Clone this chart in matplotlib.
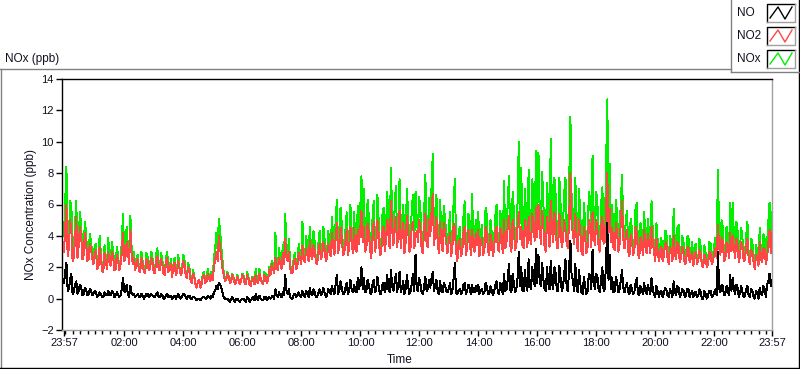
import numpy as np
import matplotlib.pyplot as plt
from matplotlib.lines import Line2D

# samples on the 5-minute marks, 23:57 -> 23:57 next day (one row per hour)
no2_a = [
    3.0, 6.0, 3.2, 4.4, 2.6, 5.2, 3.4, 4.0, 2.8, 3.6, 2.5, 3.2,
    2.2, 3.1, 2.0, 2.6, 1.7, 2.4, 3.0, 2.1, 2.7, 1.9, 2.5, 2.2,
    4.2, 2.6, 3.0, 4.4, 2.2, 1.8, 2.5, 1.7, 2.2, 1.6, 2.4, 1.9,
    2.3, 1.6, 2.7, 1.8, 2.2, 1.5, 2.6, 1.9, 1.4, 2.3, 1.7, 1.9,
    1.7, 2.2, 1.3, 1.8, 1.0, 1.4, 0.7, 1.2, 0.9, 1.5, 1.1, 1.3,
    1.5, 2.0, 3.0, 4.0, 2.6, 1.5, 1.2, 1.4, 1.1, 1.3, 1.0, 1.2,
    1.1, 1.4, 0.9, 1.3, 0.8, 1.2, 1.5, 1.0, 1.3, 0.9, 1.4, 1.2,
    1.5, 1.9, 2.6, 1.8, 2.2, 2.9, 3.8, 2.4, 2.0, 1.7, 2.5, 2.2,
    2.6, 3.4, 2.3, 2.9, 3.7, 2.5, 3.1, 2.2, 3.5, 2.7, 3.2, 2.6,
    3.1, 4.2, 2.8, 4.8, 3.3, 3.9, 2.9, 4.4, 3.2, 3.7, 4.5, 3.0,
    3.5, 5.6, 4.6, 3.2, 4.3, 2.6, 4.9, 3.4, 4.1, 2.9, 4.6, 3.8,
    4.0, 6.2, 3.4, 5.2, 4.1, 3.2, 4.8, 3.6, 4.4, 3.3, 4.9, 4.0,
    3.6, 4.4, 2.9, 5.4, 3.3, 4.0, 6.7, 4.2, 3.6, 4.9, 3.0, 4.2,
    2.9, 4.2, 3.3, 4.5, 2.4, 3.8, 3.0, 4.6, 3.2, 3.9, 4.4, 3.0,
    3.4, 2.7, 3.9, 3.1, 4.2, 2.8, 3.6, 3.3, 4.6, 3.0, 3.7, 5.0,
    3.6, 5.3, 3.0, 4.4, 3.4, 5.5, 4.6, 3.2, 4.2, 5.2, 3.5, 4.5,
    5.8, 6.0, 3.5, 4.6, 3.0, 4.3, 6.2, 3.6, 4.8, 3.2, 4.5, 3.8,
    4.4, 3.2, 8.0, 4.2, 5.4, 3.0, 4.3, 2.8, 3.9, 3.3, 4.6, 5.5,
    3.4, 4.4, 3.0, 5.2, 3.6, 8.0, 5.7, 4.5, 3.1, 4.2, 3.5, 6.2,
    3.2, 4.4, 2.7, 3.8, 3.0, 4.2, 2.6, 3.6, 4.4, 2.9, 3.5, 4.6,
    3.0, 3.8, 2.4, 3.3, 2.7, 3.6, 2.2, 3.1, 4.0, 2.5, 3.4, 2.6,
    3.0, 2.3, 3.3, 2.6, 2.1, 3.0, 2.4, 2.8, 2.0, 2.6, 2.2, 2.9,
    2.4, 3.2, 4.7, 2.8, 3.6, 2.5, 3.4, 4.2, 4.0, 2.6, 3.5, 2.8,
    3.3, 2.5, 3.8, 2.2, 3.0, 1.9, 2.7, 3.6, 2.3, 3.1, 2.6, 4.4, 4.2,
]
# samples halfway between the 5-minute marks
no2_b = [
    4.5, 2.7, 5.0, 2.4, 3.8, 2.6, 4.6, 2.5, 4.2, 2.4, 3.5, 2.6,
    2.8, 1.9, 3.3, 1.8, 2.9, 1.9, 2.3, 3.0, 1.8, 2.8, 1.8, 2.9,
    2.4, 3.6, 2.2, 2.9, 2.6, 2.3, 1.8, 2.6, 1.7, 2.5, 1.8, 2.6,
    1.7, 2.4, 1.9, 2.5, 1.6, 2.3, 1.7, 2.2, 2.0, 1.5, 2.4, 1.5,
    2.4, 1.5, 2.0, 1.2, 1.6, 0.9, 1.1, 0.7, 1.4, 1.0, 1.6, 1.1,
    1.2, 2.5, 2.4, 3.2, 1.9, 1.1, 1.6, 1.0, 1.5, 0.9, 1.4, 0.9,
    1.5, 1.0, 1.5, 0.9, 1.3, 0.9, 1.1, 1.6, 1.0, 1.5, 1.0, 1.8,
    2.2, 1.6, 2.0, 2.6, 1.9, 2.2, 2.6, 3.0, 1.6, 2.3, 1.9, 2.9,
    2.2, 2.6, 3.2, 2.4, 2.8, 3.4, 2.3, 3.0, 2.5, 3.6, 2.4, 3.5,
    2.7, 3.3, 3.8, 2.9, 4.5, 2.8, 3.6, 2.8, 4.6, 2.9, 3.2, 4.4,
    4.4, 3.6, 3.0, 4.8, 3.1, 4.0, 3.0, 5.0, 2.8, 4.2, 3.0, 5.0,
    3.2, 4.4, 4.6, 3.3, 5.6, 4.2, 2.9, 5.3, 3.0, 4.7, 3.2, 4.3,
    5.0, 3.1, 4.5, 3.5, 5.0, 5.5, 3.4, 5.2, 2.9, 3.6, 4.8, 3.6,
    3.6, 2.7, 4.8, 3.0, 3.5, 2.7, 4.2, 2.8, 4.4, 2.8, 3.3, 4.1,
    4.4, 3.5, 2.8, 4.6, 3.0, 4.1, 2.7, 4.3, 3.1, 4.5, 2.9, 3.2,
    4.6, 3.4, 5.0, 3.1, 4.6, 3.8, 3.4, 5.0, 3.3, 3.9, 5.4, 3.7,
    3.9, 4.4, 5.6, 3.3, 5.2, 3.3, 4.4, 5.5, 3.2, 5.4, 3.3, 5.0,
    3.5, 5.2, 4.6, 3.5, 3.8, 5.0, 3.0, 4.6, 2.9, 5.0, 3.3, 4.0,
    5.0, 3.3, 4.6, 3.5, 5.6, 4.2, 3.6, 3.3, 4.8, 3.0, 4.8, 3.8,
    4.0, 3.0, 4.1, 2.8, 4.6, 2.9, 3.9, 2.8, 3.3, 4.1, 2.9, 3.6,
    2.4, 3.1, 2.9, 2.4, 3.5, 2.6, 3.3, 2.4, 2.9, 3.6, 2.3, 3.3,
    2.2, 3.2, 2.3, 3.0, 2.8, 2.2, 3.1, 2.1, 2.8, 2.0, 3.0, 2.2,
    2.9, 2.6, 3.3, 3.9, 2.4, 3.6, 2.6, 3.0, 3.2, 3.8, 2.3, 3.6,
    2.4, 3.3, 2.6, 3.1, 2.3, 2.8, 2.1, 2.6, 3.2, 2.2, 3.5, 2.9,
]
no_a = [
    1.0, 2.3, 0.6, 1.6, 0.4, 1.1, 0.5, 0.7, 0.3, 0.6, 0.3, 0.5,
    0.3, 0.4, 0.2, 0.3, 0.1, 0.3, 0.5, 0.2, 0.4, 0.2, 0.3, 0.2,
    1.3, 0.4, 0.3, 0.8, 0.2, 0.1, 0.3, 0.1, 0.2, 0.1, 0.3, 0.2,
    0.2, 0.1, 0.4, 0.1, 0.2, 0.0, 0.3, 0.1, 0.0, 0.2, 0.1, 0.1,
    0.1, 0.3, 0.0, 0.2, 0.0, 0.1, -0.1, 0.0, 0.0, 0.1, 0.0, 0.1,
    0.2, 0.4, 0.8, 1.0, 0.7, 0.1, 0.0, -0.1, 0.0, -0.1, 0.0, -0.1,
    -0.1, 0.0, -0.2, 0.0, -0.1, 0.1, 0.3, -0.1, 0.0, -0.1, 0.1, 0.0,
    0.0, 0.2, 0.6, 0.1, 0.2, 0.4, 1.5, 0.3, 0.1, 0.0, 0.3, 0.2,
    0.2, 0.5, 0.1, 0.3, 0.7, 0.2, 0.4, 0.1, 0.6, 0.3, 0.4, 0.2,
    0.4, 0.8, 0.3, 1.5, 0.5, 0.7, 0.3, 1.0, 0.5, 0.6, 0.9, 0.4,
    0.6, 2.0, 1.3, 0.5, 0.9, 0.3, 1.2, 0.6, 0.8, 0.3, 1.0, 0.7,
    0.6, 1.8, 0.5, 1.6, 0.9, 0.4, 1.1, 0.6, 0.8, 0.5, 1.6, 2.8,
    0.5, 0.9, 0.3, 1.4, 0.6, 0.7, 1.7, 0.8, 0.5, 1.1, 0.4, 0.8,
    0.4, 1.0, 0.5, 2.3, 0.3, 0.6, 0.4, 1.0, 0.5, 0.7, 0.9, 0.4,
    0.5, 0.3, 0.6, 0.4, 0.8, 0.3, 0.5, 0.5, 1.1, 0.3, 0.7, 1.6,
    0.6, 2.2, 0.4, 1.0, 0.6, 3.0, 2.0, 0.5, 0.9, 2.5, 0.6, 1.2,
    3.2, 2.8, 0.8, 1.2, 0.5, 1.0, 2.4, 0.6, 1.6, 0.5, 1.3, 0.8,
    2.5, 0.5, 3.7, 1.2, 2.2, 0.4, 1.0, 0.3, 0.8, 0.5, 1.5, 3.1,
    0.6, 1.4, 0.4, 2.0, 0.6, 4.8, 2.8, 1.3, 0.5, 1.0, 0.6, 1.8,
    0.4, 1.0, 0.3, 0.6, 0.4, 1.3, 0.2, 0.6, 1.0, 0.3, 0.6, 1.3,
    0.3, 0.8, 0.1, 0.5, 0.3, 0.6, 0.1, 0.4, 1.1, 0.2, 0.7, 0.3,
    0.5, 0.2, 0.6, 0.3, 0.1, 0.4, 0.2, 0.4, 0.0, 0.3, 0.2, 0.5,
    0.2, 0.6, 3.0, 0.4, 0.8, 0.3, 0.6, 1.5, 1.3, 0.3, 0.7, 0.4,
    0.4, 0.2, 0.8, 0.1, 0.5, 0.0, 0.3, 0.7, 0.2, 0.6, 0.9, 1.6, 1.2,
]
no_b = [
    1.7, 0.5, 1.2, 0.3, 0.9, 0.3, 0.9, 0.2, 0.7, 0.2, 0.6, 0.2,
    0.5, 0.1, 0.4, 0.1, 0.4, 0.2, 0.2, 0.5, 0.1, 0.4, 0.1, 0.6,
    0.5, 0.9, 0.1, 0.4, 0.3, 0.2, 0.1, 0.3, 0.0, 0.3, 0.1, 0.3,
    0.1, 0.3, 0.1, 0.3, 0.0, 0.2, 0.1, 0.2, 0.1, 0.0, 0.3, 0.0,
    0.3, 0.1, 0.2, 0.0, 0.1, 0.0, 0.0, -0.1, 0.1, 0.0, 0.2, 0.0,
    0.1, 0.5, 0.6, 0.9, 0.4, 0.0, 0.0, -0.2, 0.1, -0.2, 0.0, -0.2,
    0.0, -0.1, 0.1, -0.2, 0.0, -0.1, 0.0, 0.2, -0.1, 0.1, -0.1, 0.1,
    0.1, 0.0, 0.2, 0.4, 0.1, 0.2, 0.5, 0.6, 0.0, 0.3, 0.1, 0.4,
    0.1, 0.2, 0.5, 0.1, 0.3, 0.6, 0.1, 0.4, 0.2, 0.7, 0.1, 0.6,
    0.3, 0.5, 0.9, 0.3, 1.1, 0.3, 0.7, 0.3, 1.2, 0.4, 0.5, 1.3,
    1.0, 0.6, 0.4, 1.2, 0.4, 0.9, 0.4, 1.4, 0.3, 0.9, 0.4, 1.5,
    0.4, 0.8, 1.0, 0.4, 1.7, 0.7, 0.3, 1.5, 0.3, 1.0, 0.5, 0.6,
    1.3, 0.4, 0.8, 0.5, 1.2, 1.3, 0.5, 1.2, 0.3, 0.5, 1.0, 0.5,
    0.6, 0.3, 1.3, 0.4, 0.5, 0.3, 0.9, 0.3, 0.9, 0.3, 0.4, 0.8,
    0.9, 0.5, 0.3, 1.0, 0.3, 0.8, 0.2, 0.9, 0.4, 1.0, 0.3, 0.5,
    1.2, 0.6, 1.6, 0.4, 1.3, 0.8, 0.5, 1.8, 0.5, 0.8, 2.0, 0.8,
    1.0, 1.1, 2.3, 0.6, 2.0, 0.6, 1.0, 2.0, 0.5, 2.1, 0.5, 1.6,
    0.6, 2.0, 1.4, 0.5, 0.7, 1.8, 0.4, 1.4, 0.3, 1.6, 0.6, 1.0,
    1.6, 0.5, 1.3, 0.5, 2.4, 1.2, 0.6, 0.4, 1.4, 0.4, 1.2, 0.7,
    0.8, 0.4, 0.9, 0.3, 1.0, 0.3, 0.8, 0.3, 0.5, 0.9, 0.3, 0.6,
    0.1, 0.5, 0.4, 0.1, 0.7, 0.2, 0.6, 0.1, 0.4, 0.8, 0.1, 0.6,
    0.1, 0.6, 0.1, 0.5, 0.4, 0.1, 0.6, 0.0, 0.5, 0.0, 0.5, 0.1,
    0.4, 0.2, 0.7, 0.9, 0.2, 0.8, 0.2, 0.5, 0.6, 0.9, 0.1, 0.8,
    0.1, 0.6, 0.2, 0.6, 0.1, 0.5, 0.0, 0.3, 0.8, 0.1, 1.1, 0.8,
]
nox_a = [
    4.0, 8.4, 3.8, 6.0, 3.0, 6.2, 3.9, 4.7, 3.1, 4.2, 2.8, 3.7,
    2.5, 3.5, 2.2, 2.9, 1.8, 2.7, 3.9, 2.3, 3.1, 2.1, 2.8, 2.4,
    5.4, 3.0, 3.3, 5.3, 2.4, 1.9, 2.8, 1.8, 2.4, 1.7, 2.7, 2.1,
    2.6, 1.7, 3.2, 1.9, 2.5, 1.5, 3.0, 2.0, 1.4, 2.6, 1.8, 2.0,
    1.8, 2.5, 1.3, 2.0, 1.0, 1.5, 0.7, 1.2, 0.9, 1.7, 1.1, 1.4,
    1.7, 2.6, 4.2, 5.1, 3.3, 1.6, 1.3, 1.4, 1.2, 1.3, 1.1, 1.2,
    1.1, 1.5, 0.9, 1.4, 0.8, 1.4, 1.9, 1.0, 1.3, 0.9, 1.6, 1.2,
    1.6, 2.2, 4.2, 2.0, 2.5, 3.4, 5.4, 2.8, 2.2, 1.8, 2.9, 2.5,
    2.9, 4.9, 2.4, 3.3, 4.6, 2.8, 3.6, 2.4, 4.3, 3.0, 3.8, 2.8,
    3.6, 5.2, 3.1, 6.3, 3.9, 4.8, 3.2, 5.5, 3.7, 4.4, 5.5, 3.4,
    4.2, 7.8, 7.0, 3.7, 5.2, 2.9, 6.2, 4.0, 5.0, 3.2, 5.8, 4.5,
    4.7, 8.3, 3.9, 7.2, 5.1, 3.6, 6.0, 4.2, 5.3, 3.8, 6.6, 6.8,
    4.2, 5.6, 3.2, 7.9, 4.0, 4.9, 9.2, 5.3, 4.2, 6.3, 3.5, 5.1,
    3.4, 5.5, 3.9, 7.6, 2.8, 4.6, 3.5, 6.2, 3.8, 4.8, 6.7, 3.5,
    4.0, 3.0, 4.7, 3.6, 5.3, 3.2, 4.2, 3.9, 6.0, 3.4, 4.5, 7.5,
    4.3, 7.8, 3.5, 5.6, 4.1, 10.0, 8.3, 3.8, 5.2, 8.2, 4.2, 6.0,
    9.4, 9.3, 4.6, 6.0, 3.6, 5.5, 10.2, 4.3, 6.6, 3.8, 6.0, 4.7,
    7.7, 3.8, 11.6, 5.6, 7.7, 3.5, 5.4, 3.2, 4.8, 3.9, 6.4, 9.1,
    4.2, 6.0, 3.5, 7.1, 4.3, 12.7, 8.6, 6.0, 3.7, 5.4, 4.3, 7.9,
    3.7, 5.6, 3.0, 4.5, 3.5, 6.1, 2.9, 4.3, 5.5, 3.2, 4.2, 6.2,
    3.4, 4.8, 2.5, 3.9, 3.0, 4.3, 2.3, 3.6, 5.7, 2.7, 4.7, 2.9,
    3.6, 2.5, 4.0, 2.9, 2.2, 3.5, 2.6, 3.3, 2.0, 2.9, 2.4, 3.5,
    2.7, 3.9, 8.2, 3.3, 4.5, 2.9, 4.1, 6.1, 6.1, 3.0, 4.3, 3.3,
    3.8, 2.8, 4.9, 2.3, 3.6, 2.0, 3.1, 4.5, 2.5, 3.8, 3.6, 6.1, 5.5,
]
nox_b = [
    6.2, 3.2, 6.2, 2.7, 4.7, 2.9, 5.5, 2.7, 4.9, 2.6, 4.1, 2.8,
    3.3, 2.0, 4.0, 1.9, 3.4, 2.1, 2.5, 3.6, 1.9, 3.3, 1.9, 3.6,
    2.9, 4.6, 2.3, 3.3, 3.0, 2.5, 1.9, 3.0, 1.7, 2.9, 1.9, 3.0,
    1.8, 2.8, 2.0, 2.9, 1.6, 2.6, 1.8, 2.5, 2.1, 1.5, 2.8, 1.5,
    2.8, 1.6, 2.3, 1.2, 1.8, 0.9, 1.1, 0.7, 1.6, 1.0, 1.9, 1.1,
    1.3, 3.2, 3.1, 4.3, 2.4, 1.1, 1.7, 1.0, 1.6, 0.9, 1.5, 0.9,
    1.6, 1.0, 1.7, 0.9, 1.4, 0.9, 1.2, 1.9, 1.0, 1.7, 1.0, 2.0,
    2.4, 1.6, 2.3, 3.2, 2.0, 2.5, 3.2, 3.8, 1.6, 2.7, 2.0, 3.5,
    2.3, 2.8, 4.0, 2.5, 3.2, 4.3, 2.4, 3.5, 2.7, 4.6, 2.5, 4.3,
    3.0, 3.9, 4.9, 3.2, 5.8, 3.1, 4.4, 3.1, 6.0, 3.3, 3.8, 5.9,
    5.6, 4.3, 3.4, 6.3, 3.5, 5.1, 3.4, 6.6, 3.1, 5.3, 3.4, 6.8,
    3.6, 5.3, 5.8, 3.8, 7.6, 5.0, 3.2, 7.0, 3.3, 5.8, 3.8, 5.0,
    6.5, 3.5, 5.4, 4.0, 6.4, 7.0, 3.9, 6.6, 3.2, 4.1, 5.9, 4.1,
    4.3, 3.0, 6.2, 3.4, 4.1, 3.0, 5.2, 3.1, 5.4, 3.1, 3.7, 5.0,
    5.5, 4.1, 3.1, 5.8, 3.3, 5.0, 2.9, 5.3, 3.5, 5.6, 3.2, 3.7,
    6.0, 4.1, 6.8, 3.6, 6.1, 4.8, 4.0, 7.0, 3.9, 4.8, 7.6, 4.6,
    5.1, 5.7, 8.1, 4.0, 7.4, 4.0, 5.6, 7.7, 3.8, 7.7, 3.9, 6.8,
    4.2, 7.4, 6.2, 4.1, 4.6, 7.0, 3.5, 6.1, 3.3, 6.8, 4.0, 5.1,
    6.8, 3.9, 6.0, 4.1, 8.3, 5.5, 4.3, 3.8, 6.3, 3.5, 6.1, 4.6,
    4.9, 3.4, 5.1, 3.1, 5.8, 3.2, 4.8, 3.1, 3.9, 5.1, 3.2, 4.3,
    2.5, 3.7, 3.4, 2.5, 4.3, 2.8, 4.0, 2.5, 3.4, 4.5, 2.4, 4.0,
    2.3, 3.9, 2.4, 3.6, 3.3, 2.3, 3.8, 2.1, 3.4, 2.0, 3.6, 2.3,
    3.4, 2.8, 4.1, 5.0, 2.6, 4.6, 2.8, 3.6, 3.9, 4.9, 2.4, 4.5,
    2.5, 4.0, 2.8, 3.8, 2.4, 3.4, 2.1, 2.9, 4.1, 2.3, 4.8, 3.8,
]


def weave(a, b):
    out = np.empty(len(a) + len(b))
    out[0::2] = a
    out[1::2] = b
    return out


no2 = weave(no2_a, no2_b)
no = weave(no_a, no_b)
nox = weave(nox_a, nox_b)
minutes = np.arange(len(no2)) * 2.5  # minutes since 23:57

tick_minutes = [0, 123, 243, 363, 483, 603, 723, 843, 963, 1083, 1203, 1323, 1440]
tick_labels = ['23:57', '02:00', '04:00', '06:00', '08:00', '10:00', '12:00',
               '14:00', '16:00', '18:00', '20:00', '22:00', '23:57']

W, H = 800, 369
plt.rcParams['font.family'] = ['Liberation Sans', 'DejaVu Sans']
txt = '#101020'
green, red = '#00f000', '#ff4646'

fig = plt.figure(figsize=(W / 100, H / 100), dpi=100)
ax = fig.add_axes([62 / W, 1 - 330 / H, 710 / W, 251 / H])

# crisp 1px traces like the instrument display
ax.plot(minutes, nox, color=green, lw=0.7, antialiased=False, zorder=2)
ax.plot(minutes, no2, color=red, lw=0.7, antialiased=False, zorder=3)
ax.plot(minutes, no, color='black', lw=0.7, antialiased=False, zorder=4)

ax.set_xlim(-4, 1440)
ax.set_ylim(-2, 14)
ax.set_yticks(range(-2, 15, 2))
ax.set_xticks(tick_minutes)
ax.set_xticklabels(tick_labels)
ax.set_xticks(np.arange(3, 1440, 15), minor=True)
ax.tick_params(axis='both', labelsize=8, colors='black', labelcolor=txt,
               length=4, width=1, pad=2)
ax.tick_params(axis='x', which='minor', length=3, width=1)

ax.spines['left'].set_color('black')
ax.spines['top'].set_color('black')
ax.spines['right'].set_color('#a0a0a0')
ax.spines['bottom'].set_color('#a0a0a0')
for s in ax.spines.values():
    s.set_linewidth(1)

fig.text(31 / W, 1 - 214 / H, 'NOx Concentration (ppb)', rotation=90,
         ha='center', va='center', fontsize=8.5, color=txt)
fig.text(400 / W, 1 - 360 / H, 'Time', ha='center', va='center',
         fontsize=8.5, color=txt)
fig.text(5 / W, 1 - 59 / H, 'NOx (ppb)', ha='left', va='center',
         fontsize=8.5, color=txt)


# panel frame drawn in pixel coordinates (sunken look)
def fline(xs, ys, color):
    fig.add_artist(Line2D([x / W for x in xs], [1 - y / H for y in ys],
                          color=color, lw=1))


fline([0, 731], [69, 69], '#808080')
fline([0.5, 0.5], [69, 368], '#808080')
fline([0, 800], [368, 368], 'black')
fline([799, 799], [0, 368], 'black')

# legend box
fline([731, 731], [0, 72], '#808080')
fline([731, 799], [72, 72], '#808080')
legend_items = [('NO', 'black', 13), ('NO2', red, 36), ('NOx', green, 59)]
for name, col, yc in legend_items:
    fig.text(737 / W, 1 - yc / H, name, ha='left', va='center',
             fontsize=8.5, color=txt)
    x0, y0, x1, y1 = 767, yc - 9, 795, yc + 9
    fline([x0, x0, x1], [y1, y0, y0], 'black')
    fline([x0, x1, x1], [y1, y1, y0], '#a0a0a0')
    zx = [x0 + 3, x0 + 11, x0 + 18, x1 - 3]
    zy = [y1 - 4, y0 + 3, y1 - 3, y0 + 3]
    fline(zx, zy, col)

fig.savefig('out.png', dpi=100)
